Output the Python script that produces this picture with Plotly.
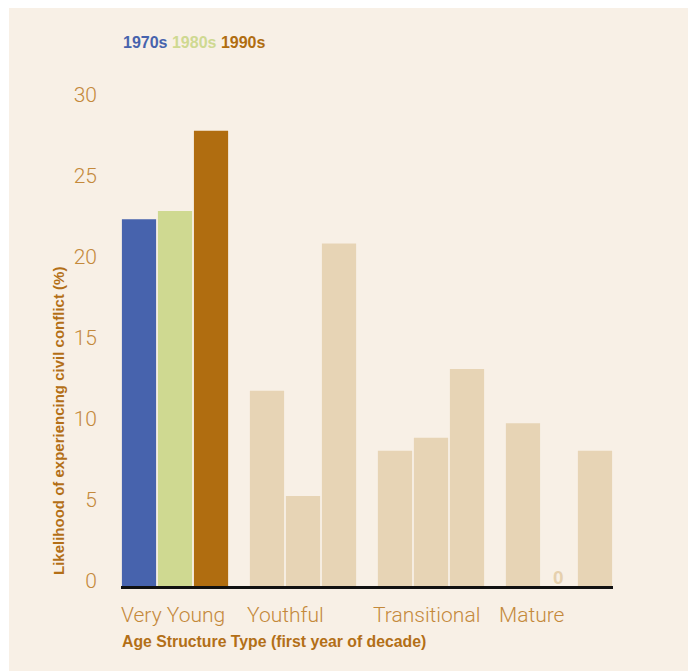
import plotly.graph_objects as go

# Likelihood of civil conflict by age structure type and decade
categories = ["Very Young", "Youthful", "Transitional", "Mature"]
decades = ["1970s", "1980s", "1990s"]
values_1970s = [22.65, 12.05, 8.35, 10.05]
values_1980s = [23.15, 5.55, 9.15, 0.0]
values_1990s = [28.1, 21.15, 13.4, 8.35]
y_ticks = [0, 5, 10, 15, 20, 25, 30]

W, H = 689, 671
ML, MR, MT, MB = 121, 76, 92, 85
PW, PH = W - ML - MR, H - MT - MB

BG = "#f8f0e6"
BEIGE = "#e7d4b5"
DECADE_COLORS = ["#4763ad", "#cfd991", "#b06d10"]
TICK_COLOR = "#c4893b"
TITLE_COLOR = "#b36f17"
LIGHT_FONT = "Roboto"
BOLD_FONT = "Arial, Liberation Sans, sans-serif"


def px_x(px):
    return (px - ML) / PW


def px_y(py):
    return (H - MB - py) / PH


series = [values_1970s, values_1980s, values_1990s]
fig = go.Figure()
for i, (name, vals) in enumerate(zip(decades, series)):
    # only the "Very Young" group is highlighted in decade colours
    colors = [DECADE_COLORS[i] if j == 0 else BEIGE for j in range(len(categories))]
    fig.add_trace(go.Bar(
        x=list(range(len(categories))),
        y=vals,
        name=name,
        marker=dict(color=colors, line=dict(width=0)),
        hoverinfo="y",
    ))

annotations = []

# value label for the zero-height bar
for j, v in enumerate(values_1980s):
    if v == 0:
        annotations.append(dict(
            x=j, y=v, xref="x", yref="y", text="<b>%d</b>" % v,
            showarrow=False, yanchor="bottom", yshift=-4,
            font=dict(family=BOLD_FONT, size=19, color="#e6d0ae"),
        ))

# legend line with coloured decade names
legend_text = " ".join(
    '<span style="color:%s">%s</span>' % (c, d) for c, d in zip(DECADE_COLORS, decades)
)
annotations.append(dict(
    x=px_x(121), y=px_y(42), xref="paper", yref="paper", text="<b>%s</b>" % legend_text,
    showarrow=False, xanchor="left", yanchor="middle",
    font=dict(family=BOLD_FONT, size=16),
))

# category labels, left aligned under each group
label_px = [121, 247, 373, 499]
for cat, lx in zip(categories, label_px):
    annotations.append(dict(
        x=px_x(lx), y=px_y(615), xref="paper", yref="paper", text=cat,
        showarrow=False, xanchor="left", yanchor="middle", xshift=-2,
        font=dict(family=LIGHT_FONT, size=21, color=TICK_COLOR, weight=300),
    ))

# axis titles
annotations.append(dict(
    x=px_x(121), y=px_y(641), xref="paper", yref="paper",
    text="<b>Age Structure Type (first year of decade)</b>",
    showarrow=False, xanchor="left", yanchor="middle", xshift=-1,
    font=dict(family=BOLD_FONT, size=15.8, color=TITLE_COLOR),
))
annotations.append(dict(
    x=px_x(58), y=px_y(421), xref="paper", yref="paper",
    text="<b>Likelihood of experiencing civil conflict (%)</b>",
    showarrow=False, xanchor="center", yanchor="middle", textangle=-90,
    font=dict(family=BOLD_FONT, size=15, color=TITLE_COLOR),
))

fig.update_layout(
    width=W, height=H,
    margin=dict(l=ML, r=MR, t=MT, b=MB, pad=0),
    paper_bgcolor="white",
    plot_bgcolor="rgba(0,0,0,0)",
    barmode="group",
    bargap=0.156,
    bargroupgap=0.05,
    showlegend=False,
    annotations=annotations,
    shapes=[dict(
        type="rect", xref="paper", yref="paper", layer="below",
        x0=px_x(9), x1=px_x(688), y0=px_y(680), y1=px_y(8),
        fillcolor=BG, line=dict(width=0),
    )],
    xaxis=dict(
        range=[-0.422, len(categories) - 1 + 0.422],
        showticklabels=False, ticks="", showgrid=False, zeroline=False,
        showline=True, linecolor="#111111", linewidth=3, fixedrange=True,
    ),
    yaxis=dict(
        range=[0, 30.5], tickvals=y_ticks, ticktext=[str(t) for t in y_ticks],
        showgrid=False, zeroline=False, showline=False, ticks="",
        ticklabelstandoff=23, ticklabelshift=-5,
        tickfont=dict(family=LIGHT_FONT, size=21, color=TICK_COLOR, weight=300),
        fixedrange=True,
    ),
)

fig.write_html("out.html")
